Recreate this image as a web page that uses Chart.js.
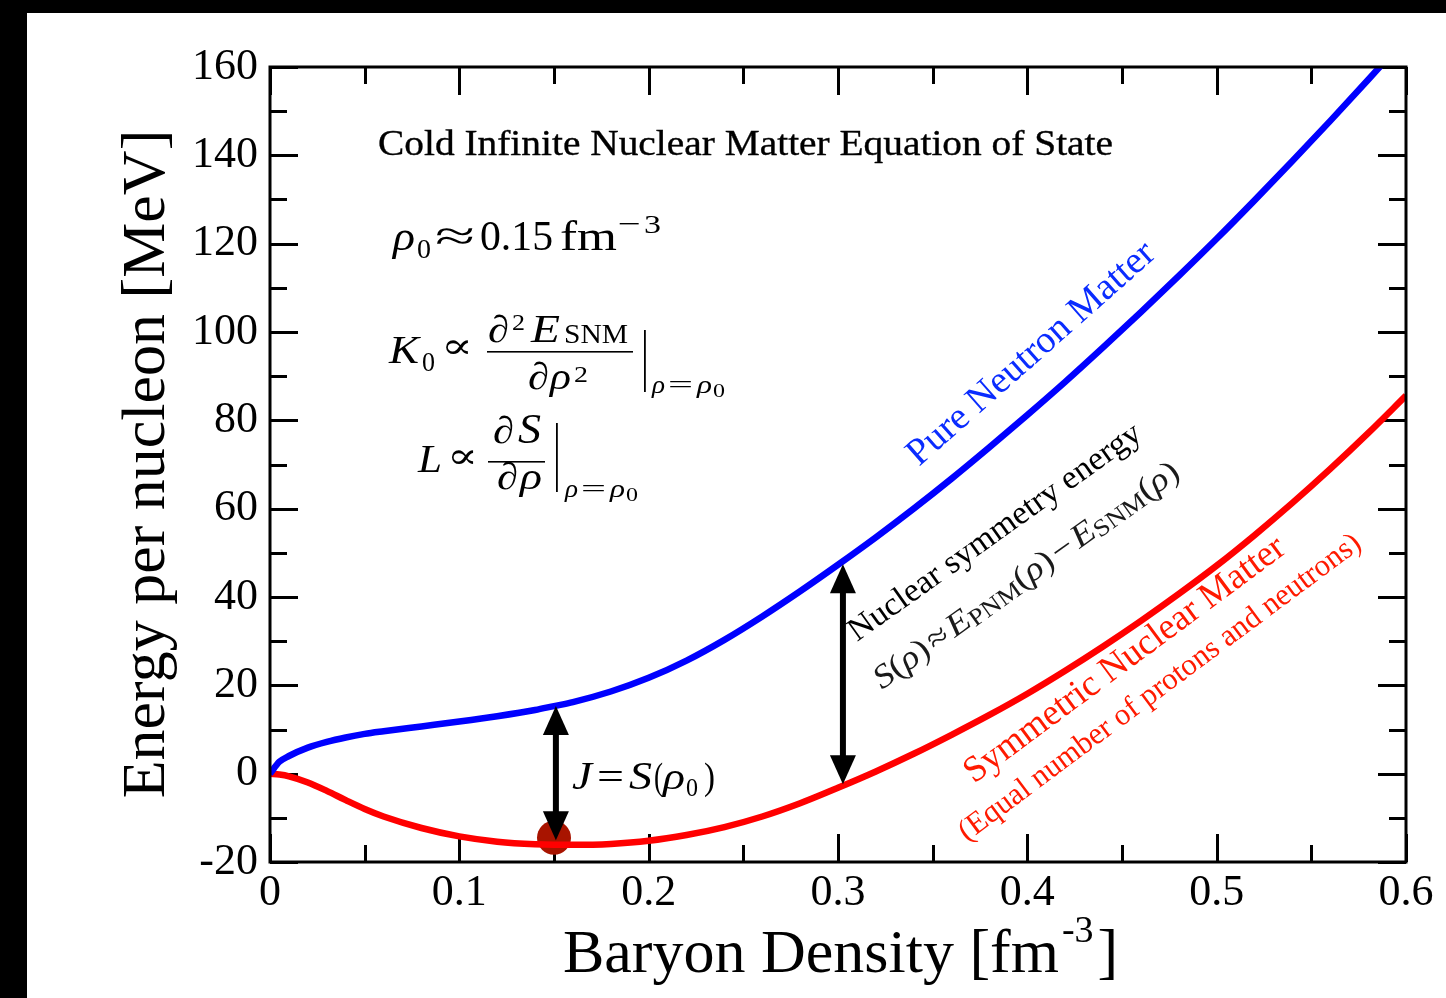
<!DOCTYPE html>
<html>
<head>
<meta charset="utf-8">
<title>Cold Infinite Nuclear Matter Equation of State</title>
<script src="https://cdn.jsdelivr.net/npm/chart.js@4.4.1/dist/chart.umd.min.js"></script>
<style>
  html, body { margin: 0; padding: 0; background: #000; }
  canvas { display: block; }
</style>
</head>
<body>
<canvas id="eos" width="1446" height="998"></canvas>
<script>
// baryon density grid [fm^-3] and energy per nucleon [MeV]
const density = [0, 0.005, 0.01, 0.02, 0.03, 0.04, 0.05, 0.06, 0.08, 0.10, 0.12, 0.14, 0.15, 0.16, 0.18,
                 0.20, 0.22, 0.24, 0.26, 0.28, 0.30, 0.32, 0.34, 0.36, 0.38, 0.40, 0.42, 0.44, 0.46, 0.48,
                 0.50, 0.52, 0.54, 0.56, 0.58, 0.60];
const pureNeutron = [0, 2.7, 4.0, 5.9, 7.2, 8.2, 9.0, 9.6, 10.7, 11.8, 13.0, 14.4, 15.3, 16.2, 18.6,
                     21.7, 25.6, 30.3, 35.6, 41.3, 47.3, 53.5, 60.0, 66.8, 73.9, 81.2, 88.7, 96.5, 104.5, 112.7,
                     121.1, 129.8, 138.7, 147.8, 157.1, 166.6];
const symmetric = [0, -0.2, -0.6, -2.0, -3.9, -6.0, -8.0, -9.7, -12.3, -14.2, -15.4, -16.0, -16.1, -16.1, -15.9,
                   -15.2, -13.9, -12.1, -9.7, -6.7, -3.2, 0.5, 4.5, 8.8, 13.3, 18.1, 23.3, 28.8, 34.6, 40.7,
                   47.1, 54.0, 61.3, 69.0, 77.1, 85.6];

// saturation point
const saturation = { x: 0.15, y: -14.5 };

// symmetry energy arrows: density, top (PNM) and bottom (SNM) ends
const arrowDensity = [0.151, 0.3026];
const arrowTop = [15.3, 47.4];
const arrowBottom = [-15.1, -2.4];

// axes
const xTickValues = [0, 0.1, 0.2, 0.3, 0.4, 0.5, 0.6];
const xTickLabels = ['0', '0.1', '0.2', '0.3', '0.4', '0.5', '0.6'];
const xMinorTicks = [0.05, 0.15, 0.25, 0.35, 0.45, 0.55];
const yTickValues = [-20, 0, 20, 40, 60, 80, 100, 120, 140, 160];
const yTickLabels = ['-20', '0', '20', '40', '60', '80', '100', '120', '140', '160'];
const yMinorTicks = [-10, 10, 30, 50, 70, 90, 110, 130, 150];

const SERIF = '"Liberation Serif", "DejaVu Serif", serif';
const it = s => 'italic ' + s + 'px ' + SERIF;
const rm = s => s + 'px ' + SERIF;

function put(ctx, text, x, y, font, color) {
    ctx.font = font;
    ctx.fillStyle = color || '#000';
    ctx.fillText(text, x, y);
    return x + ctx.measureText(text).width;
}

// text stretched to a given width, optionally rotated about its start
function putW(ctx, text, x, y, font, width, color, angle) {
    ctx.save();
    ctx.font = font;
    ctx.fillStyle = color || '#000';
    const w = ctx.measureText(text).width;
    ctx.translate(x, y);
    if (angle) ctx.rotate(angle * Math.PI / 180);
    ctx.scale(width / w, 1);
    ctx.fillText(text, 0, 0);
    ctx.restore();
}

// run of pieces along a rotated baseline, stretched to a total width
function run(ctx, pieces, x, y, angle, color, width) {
    ctx.save();
    let total = 0;
    pieces.forEach(p => { ctx.font = p.font; total += ctx.measureText(p.t).width + (p.gap || 0); });
    ctx.translate(x, y);
    ctx.rotate(angle * Math.PI / 180);
    ctx.scale(width / total, 1);
    ctx.fillStyle = color;
    let cx = 0;
    pieces.forEach(p => {
        ctx.font = p.font;
        ctx.fillText(p.t, cx, p.dy || 0);
        cx += ctx.measureText(p.t).width + (p.gap || 0);
    });
    ctx.restore();
}

function arrowHead(ctx, x, y, dir) {
    ctx.beginPath();
    ctx.moveTo(x, y);
    ctx.lineTo(x - 13, y - dir * 29);
    ctx.lineTo(x + 13, y - dir * 29);
    ctx.closePath();
    ctx.fill();
}

const background = {
    id: 'background',
    beforeDraw(chart) {
        const ctx = chart.ctx;
        ctx.save();
        ctx.fillStyle = '#000';
        ctx.fillRect(0, 0, chart.width, chart.height);
        ctx.fillStyle = '#fff';
        ctx.fillRect(27, 13, chart.width - 27, chart.height - 13);
        ctx.restore();
    }
};

// inward ticks on all four sides, arrows and frame
const innerTicks = {
    id: 'innerTicks',
    beforeDatasetsDraw(chart) {
        const { ctx, chartArea: a, scales: { x, y } } = chart;
        ctx.save();
        ctx.strokeStyle = '#000';
        ctx.lineWidth = 3;
        ctx.beginPath();
        const tickX = (vals, len) => {
            vals.forEach(v => {
                const px = Math.round(x.getPixelForValue(v)) + 0.5;
                ctx.moveTo(px, a.bottom); ctx.lineTo(px, a.bottom - len);
                ctx.moveTo(px, a.top); ctx.lineTo(px, a.top + len);
            });
        };
        const tickY = (vals, len) => {
            vals.forEach(v => {
                const py = Math.round(y.getPixelForValue(v)) + 0.5;
                ctx.moveTo(a.left, py); ctx.lineTo(a.left + len, py);
                ctx.moveTo(a.right, py); ctx.lineTo(a.right - len, py);
            });
        };
        tickX(xTickValues, 28);
        tickX(xMinorTicks, 17);
        tickY(yTickValues, 28);
        tickY(yMinorTicks, 17);
        ctx.stroke();
        ctx.restore();
    },
    afterDatasetsDraw(chart) {
        const { ctx, chartArea: a, scales: { x, y } } = chart;
        ctx.save();
        ctx.strokeStyle = '#000';
        ctx.fillStyle = '#000';
        ctx.lineWidth = 6;
        arrowDensity.forEach((d, i) => {
            const px = x.getPixelForValue(d);
            const top = y.getPixelForValue(arrowTop[i]);
            const bot = y.getPixelForValue(arrowBottom[i]);
            ctx.beginPath();
            ctx.moveTo(px, top + 20);
            ctx.lineTo(px, bot - 20);
            ctx.stroke();
            arrowHead(ctx, px, top, -1);
            arrowHead(ctx, px, bot, 1);
        });
        ctx.lineWidth = 3;
        ctx.strokeRect(a.left, a.top, a.right - a.left, a.bottom - a.top);
        ctx.restore();
    }
};

const annotations = {
    id: 'annotations',
    afterDraw(chart) {
        const ctx = chart.ctx;
        ctx.save();
        ctx.textBaseline = 'alphabetic';
        ctx.textAlign = 'left';

        // axis titles
        ctx.save();
        ctx.translate(164, 464);
        ctx.rotate(-Math.PI / 2);
        ctx.textAlign = 'center';
        ctx.font = rm(62);
        ctx.fillStyle = '#000';
        ctx.fillText('Energy per nucleon [MeV]', 0, 0);
        ctx.restore();

        let cx = put(ctx, 'Baryon Density [fm', 563, 972, rm(62));
        cx = put(ctx, '-3', cx + 3, 942, rm(38));
        put(ctx, ']', cx + 4, 972, rm(62));

        // heading
        ctx.save();
        ctx.strokeStyle = '#000';
        ctx.lineWidth = 0.35;
        ctx.font = rm(35);
        const head = 'Cold Infinite Nuclear Matter Equation of State';
        const hw = ctx.measureText(head).width;
        ctx.translate(378, 155);
        ctx.scale(735 / hw, 1);
        ctx.fillStyle = '#000';
        ctx.fillText(head, 0, 0);
        ctx.strokeText(head, 0, 0);
        ctx.restore();

        // saturation density
        putW(ctx, 'ρ', 393, 250, it(42), 22);
        putW(ctx, '0', 417, 258, rm(28), 14);
        putW(ctx, '≈', 435, 250, rm(42), 40);
        putW(ctx, '0.15', 480, 250, rm(42), 73);
        putW(ctx, 'fm', 560, 250, rm(42), 57);
        putW(ctx, '−', 618, 233, rm(28), 23);
        putW(ctx, '3', 644, 233, rm(26), 17);

        // incompressibility
        putW(ctx, 'K', 389, 363, it(40), 30);
        putW(ctx, '0', 422, 371, rm(27), 13);
        putW(ctx, '∝', 441, 358, rm(36), 32);
        putW(ctx, '∂', 488, 342, it(38), 21);
        putW(ctx, '2', 512, 330, rm(24), 13);
        putW(ctx, 'E', 531, 342, it(40), 29);
        putW(ctx, 'SNM', 564, 343, rm(27), 64);
        ctx.fillRect(487, 351, 146, 1.6);
        putW(ctx, '∂', 528, 389, it(38), 21);
        putW(ctx, 'ρ', 550, 389, it(38), 21);
        putW(ctx, '2', 574, 382, rm(24), 14);
        ctx.fillRect(644, 330, 1.8, 62);
        putW(ctx, 'ρ', 652, 393, it(26), 13);
        putW(ctx, '=', 668, 393, rm(26), 25);
        putW(ctx, 'ρ', 697, 393, it(26), 15);
        putW(ctx, '0', 713, 397, rm(18), 12);

        // slope of symmetry energy
        putW(ctx, 'L', 418, 472, it(40), 24);
        putW(ctx, '∝', 447, 468, rm(36), 31);
        putW(ctx, '∂', 493, 443, it(38), 21);
        putW(ctx, 'S', 518, 443, it(42), 23);
        ctx.fillRect(488, 461, 57, 1.6);
        putW(ctx, '∂', 497, 489, it(38), 21);
        putW(ctx, 'ρ', 520, 489, it(38), 22);
        ctx.fillRect(556, 423, 1.8, 69);
        putW(ctx, 'ρ', 565, 497, it(26), 13);
        putW(ctx, '=', 581, 497, rm(26), 25);
        putW(ctx, 'ρ', 610, 497, it(26), 15);
        putW(ctx, '0', 626, 501, rm(18), 12);

        // J = S(rho0)
        putW(ctx, 'J', 572, 789, it(40), 20);
        putW(ctx, '=', 597, 789, rm(38), 27);
        putW(ctx, 'S', 629, 789, it(41), 23);
        putW(ctx, '(', 654, 789, rm(38), 9);
        putW(ctx, 'ρ', 663, 789, it(38), 22);
        putW(ctx, '0', 686, 796, rm(26), 12);
        putW(ctx, ')', 704, 789, rm(38), 11);

        // curve labels
        putW(ctx, 'Pure Neutron Matter', 919, 467, rm(38), 318, '#0a2cff', -41.5);
        putW(ctx, 'Nuclear symmetry energy', 857, 642, rm(33), 352, '#000', -35.5);
        run(ctx, [
            { t: 'S', font: it(33) }, { t: '(', font: rm(33) }, { t: 'ρ', font: it(33) },
            { t: ')', font: rm(33), gap: 3 }, { t: '≈', font: rm(33), gap: 3 },
            { t: 'E', font: it(33) }, { t: 'PNM', font: rm(24), dy: 3 },
            { t: '(', font: rm(33) }, { t: 'ρ', font: it(33) }, { t: ')', font: rm(33), gap: 3 },
            { t: '−', font: rm(33), gap: 3 },
            { t: 'E', font: it(33) }, { t: 'SNM', font: rm(24), dy: 3 },
            { t: '(', font: rm(33) }, { t: 'ρ', font: it(33) }, { t: ')', font: rm(33) }
        ], 882, 690, -35.5, '#1a1a1a', 368);
        putW(ctx, 'Symmetric Nuclear Matter', 974, 784, rm(37), 390, '#ff1a00', -36.5);
        putW(ctx, '(Equal number of protons and neutrons)', 967, 842, rm(31), 494, '#ff1a00', -36.7);

        ctx.restore();
    }
};

const toPoints = ys => density.map((d, i) => ({ x: d, y: ys[i] }));

new Chart(document.getElementById('eos'), {
    type: 'line',
    data: {
        datasets: [{
            label: 'Pure Neutron Matter',
            data: toPoints(pureNeutron),
            borderColor: '#0000ff',
            borderWidth: 6.5,
            pointRadius: 0,
            cubicInterpolationMode: 'monotone'
        }, {
            label: 'Symmetric Nuclear Matter',
            data: toPoints(symmetric),
            borderColor: '#ff0000',
            borderWidth: 6.5,
            pointRadius: 0,
            cubicInterpolationMode: 'monotone'
        }, {
            label: 'Saturation',
            type: 'scatter',
            data: [saturation],
            pointRadius: 17,
            pointBackgroundColor: 'rgb(168, 20, 0)',
            pointBorderWidth: 0,
            borderWidth: 0
        }]
    },
    options: {
        responsive: false,
        animation: false,
        events: [],
        layout: {
            padding: { left: 26, right: 40, top: 67, bottom: 0 }
        },
        plugins: {
            legend: { display: false },
            tooltip: { enabled: false }
        },
        scales: {
            x: {
                type: 'linear',
                min: 0,
                max: 0.6,
                afterBuildTicks: s => { s.ticks = xTickValues.map(v => ({ value: v })); },
                afterFit: s => { s.height = 136; },
                grid: { display: false },
                border: { display: false },
                ticks: {
                    autoSkip: false,
                    maxRotation: 0,
                    padding: -3,
                    color: '#000',
                    font: { family: SERIF, size: 44 },
                    callback: (v, i) => xTickLabels[i]
                }
            },
            y: {
                min: -20,
                max: 160,
                afterBuildTicks: s => { s.ticks = yTickValues.map(v => ({ value: v })); },
                afterFit: s => { s.width = 244; },
                grid: { display: false },
                border: { display: false },
                ticks: {
                    autoSkip: false,
                    padding: 4,
                    color: '#000',
                    font: { family: SERIF, size: 44 },
                    callback: (v, i) => yTickLabels[i]
                }
            }
        }
    },
    plugins: [background, innerTicks, annotations]
});
</script>
</body>
</html>
